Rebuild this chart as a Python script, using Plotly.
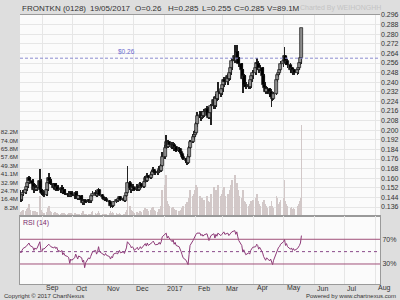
import plotly.graph_objects as go
import pandas as pd

# ---------------- data ----------------
dates = pd.bdate_range("2016-08-09", "2017-05-19")

open_px = [
 0.148,0.145,0.142,0.146,0.148,0.150,0.153,0.156,0.160,0.158,0.155,0.150,0.153,0.150,0.152,0.158,0.150,
 0.148,0.147,0.146,0.150,0.156,0.160,0.158,0.155,0.152,0.155,0.150,0.153,0.150,0.150,0.152,0.148,0.150,0.147,0.146,0.147,0.145,0.148,
 0.146,0.145,0.148,0.145,0.143,0.145,0.142,0.139,0.141,0.141,0.140,0.142,0.140,0.141,0.145,0.147,0.148,0.145,0.147,0.150,0.146,
 0.144,0.143,0.142,0.143,0.141,0.140,0.137,0.138,0.137,0.140,0.142,0.141,0.143,0.144,0.142,0.143,0.141,0.145,0.148,0.156,0.152,0.150,
 0.153,0.152,0.150,0.153,0.150,0.152,0.155,0.153,0.157,0.160,0.158,0.162,0.160,0.163,0.165,0.167,0.165,0.164,0.165,0.168,0.166,0.170,
 0.178,0.185,0.190,0.186,0.190,0.188,0.185,0.188,0.184,0.186,0.183,0.184,0.182,0.180,0.178,0.176,0.174,0.173,0.178,0.185,0.190,0.194,
 0.196,0.198,0.205,0.212,0.213,0.210,0.214,0.212,0.215,0.218,0.212,0.210,0.214,0.220,0.225,0.220,0.228,0.226,0.232,0.230,
 0.234,0.238,0.242,0.240,0.245,0.243,0.248,0.252,0.258,0.262,0.258,0.265,0.260,0.255,0.250,0.243,0.245,0.238,0.236,0.238,0.236,0.242,0.245,
 0.248,0.252,0.256,0.255,0.250,0.252,0.245,0.238,0.235,0.232,0.234,0.230,0.232,0.228,0.226,0.230,0.242,0.246,0.248,0.250,
 0.255,0.258,0.262,0.256,0.258,0.254,0.250,0.252,0.248,0.250,0.248,0.250,0.252,0.256,0.260,
]
high_px = [
 0.150,0.147,0.147,0.150,0.152,0.155,0.158,0.162,0.161,0.159,0.156,0.155,0.154,0.153,0.168,0.159,0.151,
 0.150,0.149,0.151,0.158,0.164,0.161,0.159,0.156,0.156,0.156,0.154,0.154,0.152,0.154,0.153,0.151,0.151,0.148,0.149,0.148,0.149,0.149,
 0.147,0.149,0.149,0.146,0.146,0.146,0.143,0.142,0.143,0.142,0.143,0.143,0.142,0.146,0.149,0.150,0.149,0.148,0.152,0.151,0.147,
 0.145,0.144,0.144,0.144,0.142,0.141,0.139,0.139,0.141,0.143,0.143,0.144,0.145,0.145,0.144,0.144,0.146,0.150,0.170,0.158,0.154,0.155,
 0.155,0.153,0.155,0.154,0.153,0.157,0.156,0.158,0.162,0.161,0.164,0.163,0.165,0.167,0.169,0.168,0.166,0.167,0.170,0.169,0.172,0.182,
 0.188,0.196,0.192,0.192,0.191,0.190,0.190,0.189,0.188,0.187,0.186,0.185,0.183,0.181,0.179,0.177,0.176,0.180,0.187,0.192,0.197,0.199,
 0.200,0.207,0.215,0.216,0.214,0.216,0.215,0.218,0.220,0.219,0.214,0.216,0.222,0.228,0.226,0.230,0.229,0.240,0.234,0.236,
 0.240,0.244,0.244,0.247,0.246,0.250,0.254,0.260,0.271,0.264,0.271,0.266,0.261,0.256,0.251,0.247,0.246,0.240,0.240,0.240,0.244,0.247,0.250,
 0.254,0.260,0.258,0.256,0.254,0.253,0.247,0.240,0.237,0.236,0.235,0.234,0.233,0.230,0.232,0.244,0.248,0.250,0.252,0.258,
 0.260,0.269,0.263,0.262,0.259,0.256,0.254,0.253,0.252,0.251,0.252,0.254,0.258,0.262,0.285,
]
low_px = [
 0.140,0.140,0.141,0.145,0.147,0.149,0.152,0.155,0.156,0.154,0.148,0.149,0.149,0.149,0.150,0.148,0.146,
 0.145,0.144,0.145,0.149,0.155,0.157,0.154,0.151,0.151,0.149,0.149,0.149,0.148,0.149,0.147,0.147,0.146,0.144,0.145,0.144,0.144,0.145,
 0.143,0.144,0.144,0.142,0.142,0.141,0.138,0.138,0.140,0.139,0.139,0.139,0.139,0.140,0.144,0.146,0.144,0.144,0.146,0.145,0.143,
 0.142,0.141,0.141,0.140,0.139,0.135,0.136,0.135,0.136,0.139,0.140,0.140,0.142,0.141,0.141,0.140,0.140,0.144,0.147,0.150,0.148,0.149,
 0.150,0.149,0.149,0.149,0.149,0.151,0.152,0.152,0.156,0.157,0.157,0.159,0.159,0.162,0.164,0.164,0.163,0.163,0.164,0.165,0.165,0.169,
 0.176,0.184,0.185,0.185,0.186,0.184,0.184,0.183,0.183,0.182,0.182,0.181,0.179,0.177,0.175,0.173,0.171,0.172,0.177,0.184,0.189,0.192,
 0.194,0.197,0.203,0.210,0.208,0.209,0.210,0.211,0.214,0.211,0.209,0.209,0.204,0.218,0.218,0.219,0.224,0.225,0.228,0.229,
 0.232,0.236,0.238,0.238,0.241,0.242,0.246,0.250,0.256,0.256,0.256,0.258,0.253,0.248,0.231,0.241,0.236,0.234,0.234,0.234,0.235,0.240,0.243,
 0.246,0.250,0.253,0.248,0.249,0.243,0.236,0.233,0.230,0.230,0.228,0.229,0.219,0.224,0.225,0.229,0.240,0.244,0.246,0.249,
 0.253,0.256,0.254,0.254,0.252,0.248,0.248,0.246,0.246,0.246,0.246,0.247,0.250,0.254,0.255,
]
close_px = [
 0.145,0.142,0.146,0.148,0.150,0.153,0.156,0.160,0.158,0.155,0.150,0.153,0.150,0.152,0.158,0.150,0.148,
 0.147,0.146,0.150,0.156,0.160,0.158,0.155,0.152,0.155,0.150,0.153,0.150,0.150,0.152,0.148,0.150,0.147,0.146,0.147,0.145,0.148,0.146,
 0.145,0.148,0.145,0.143,0.145,0.142,0.139,0.141,0.141,0.140,0.142,0.140,0.141,0.145,0.147,0.148,0.145,0.147,0.150,0.146,0.144,
 0.143,0.142,0.143,0.141,0.140,0.137,0.138,0.137,0.140,0.142,0.141,0.143,0.144,0.142,0.143,0.141,0.145,0.148,0.156,0.152,0.150,0.153,
 0.152,0.150,0.153,0.150,0.152,0.155,0.153,0.157,0.160,0.158,0.162,0.160,0.163,0.165,0.167,0.165,0.164,0.165,0.168,0.166,0.170,0.178,
 0.185,0.190,0.186,0.190,0.188,0.185,0.188,0.184,0.186,0.183,0.184,0.182,0.180,0.178,0.176,0.174,0.173,0.178,0.185,0.190,0.194,0.196,
 0.198,0.205,0.212,0.213,0.210,0.214,0.212,0.215,0.218,0.212,0.210,0.214,0.220,0.225,0.220,0.228,0.226,0.232,0.230,0.234,
 0.238,0.242,0.240,0.245,0.243,0.248,0.252,0.258,0.262,0.258,0.265,0.260,0.255,0.250,0.243,0.245,0.238,0.236,0.238,0.236,0.242,0.245,0.248,
 0.252,0.256,0.255,0.250,0.252,0.245,0.238,0.235,0.232,0.234,0.230,0.232,0.228,0.226,0.230,0.242,0.246,0.248,0.250,0.255,
 0.258,0.262,0.256,0.258,0.254,0.250,0.252,0.248,0.250,0.248,0.250,0.252,0.256,0.260,0.285,
]
volume_m = [
 4,3,5,6,5,7,8,12,6,5,4,5,3,4,20,6,4,
 3,3,4,8,10,5,4,3,4,3,3,2,2,3,2,3,2,2,3,2,3,2,
 3,2,2,2,2,3,5,2,2,2,2,2,2,4,5,3,2,3,5,3,2,
 2,2,2,2,3,5,3,4,3,3,2,2,3,2,2,2,4,6,35,10,6,5,
 4,3,4,3,3,5,4,6,8,5,7,5,6,8,9,6,5,4,7,6,10,25,
 30,40,15,12,10,8,9,7,6,6,5,5,6,8,10,12,14,10,18,25,20,22,
 25,30,28,20,15,18,14,16,20,15,12,14,22,28,20,25,18,30,20,22,
 25,28,20,22,18,25,30,35,40,28,32,25,20,18,25,15,14,12,10,12,15,14,16,
 18,22,15,12,10,14,16,12,10,8,10,9,15,10,8,20,18,12,14,16,
 18,35,15,12,10,8,9,7,8,7,10,12,15,18,89.1,
]
rsi14 = [
 50,48,52,55,58,60,62,64,60,57,52,56,54,55,66,52,50,
 55,54,58,60,62,60,58,56,58,55,57,52,50,52,45,48,44,42,40,31,38,36,
 40,46,42,38,43,40,33,36,24,32,40,38,42,48,50,52,46,50,58,50,46,
 46,44,47,44,42,38,42,40,46,48,46,50,52,48,50,47,52,56,66,60,56,58,
 56,52,57,53,55,58,55,60,63,59,64,60,63,65,67,63,61,62,65,62,66,74,
 78,80,72,75,72,66,69,62,65,60,58,55,50,45,40,36,32,29,45,60,68,72,
 74,78,80,80,76,78,75,77,79,72,68,72,76,79,72,78,75,80,76,78,
 80,82,78,80,76,79,80,82,84,78,82,74,68,60,50,53,47,45,48,46,52,55,57,
 58,62,60,54,57,48,42,38,36,40,35,38,32,29,36,50,55,57,58,62,
 66,70,60,63,58,54,56,52,55,52,55,57,60,64,76,
]

vol_tick_m = [8.2, 16.4, 24.7, 32.9, 41.1, 49.3, 57.6, 65.8, 74.0, 82.2]
price_ticks = [0.136, 0.144, 0.152, 0.160, 0.168, 0.176, 0.184, 0.192, 0.200, 0.208,
               0.216, 0.224, 0.232, 0.240, 0.248, 0.256, 0.264, 0.272, 0.280, 0.288, 0.296]
month_starts = ["2016-09-01", "2016-10-01", "2016-11-01", "2016-12-01", "2017-01-01", "2017-02-01",
                "2017-03-01", "2017-04-01", "2017-05-01", "2017-06-01", "2017-07-01", "2017-08-01"]
month_labels = ["Sep", "Oct", "Nov", "Dec", "2017", "Feb", "Mar", "Apr", "May", "Jun", "Jul", "Aug"]
rsi_levels = [70, 30]
rsi_mid = 50
ref_price = 0.26
header = ["FRONTKN (0128)", "19/05/2017", "O=0.26", "H=0.285", "L=0.255", "C=0.285", "V=89.1M"]

# ---------------- layout geometry ----------------
W, H = 400, 300
ML, MR, MT, MB = 20, 20, 15, 16
PH = H - MT - MB
split = (H - MB - 216) / PH   # paper y of panel separator


def px_x(px):
    return (px - ML) / (W - ML - MR)


def px_y(py):
    return (H - MB - py) / PH


FONT = "Liberation Sans, Arial, sans-serif"
DAY = 86400000

up = [c >= o for o, c in zip(open_px, close_px)]
body_base = [min(o, c) for o, c in zip(open_px, close_px)]
body_h = [max(abs(c - o), 0.0007) for o, c in zip(open_px, close_px)]
wick_h = [h - l for h, l in zip(high_px, low_px)]

fig = go.Figure()

# volume (base axis y, left)
fig.add_trace(go.Bar(x=dates, y=[v * 1e6 for v in volume_m], width=0.8 * DAY,
                     marker=dict(color="#d2c8c8", line=dict(width=0)),
                     xaxis="x", yaxis="y", hoverinfo="skip"))
# wicks
fig.add_trace(go.Bar(x=dates, y=wick_h, base=low_px, width=0.8 * DAY,
                     marker=dict(color="#222222", line=dict(width=0)),
                     xaxis="x", yaxis="y2", hoverinfo="skip"))
# bodies
fig.add_trace(go.Bar(x=dates, y=body_h, base=body_base, width=3.0 * DAY,
                     marker=dict(color=["#8c8c8c" if u else "#000000" for u in up],
                                 line=dict(color="#111111", width=0.7)),
                     xaxis="x", yaxis="y2", hoverinfo="skip"))
# RSI
fig.add_trace(go.Scatter(x=dates, y=rsi14, mode="lines",
                         line=dict(color="#8e3a78", width=1),
                         xaxis="x2", yaxis="y3", hoverinfo="skip"))

shapes = [
    dict(type="line", xref="paper", x0=0, x1=1, yref="y2", y0=ref_price, y1=ref_price,
         line=dict(color="#8c8cd0", width=1, dash="3px,2px")),
    dict(type="line", xref="paper", x0=0, x1=1, yref="y3", y0=rsi_mid, y1=rsi_mid,
         line=dict(color="#8a4a8a", width=1, dash="3px,3px")),
]
for lv in rsi_levels:
    shapes.append(dict(type="line", xref="paper", x0=0, x1=1, yref="y3", y0=lv, y1=lv,
                       line=dict(color="#a0507a", width=1)))

annotations = []
hdr_px = [20, 88, 133, 166, 200, 232, 265]
for txt, xp in zip(header, hdr_px):
    annotations.append(dict(text=txt, x=px_x(xp), y=px_y(8), xref="paper", yref="paper",
                            xanchor="left", yanchor="middle", showarrow=False,
                            font=dict(size=8, color="#333333", family=FONT)))
annotations.append(dict(text="Charted By WEIHONGHH", x=px_x(298), y=px_y(8), xref="paper", yref="paper",
                        xanchor="left", yanchor="middle", showarrow=False,
                        font=dict(size=7, color="#c4c4c4", family=FONT)))
annotations.append(dict(text="$0.26", x="2016-11-14", y=ref_price, xref="x", yref="y2",
                        xanchor="left", yanchor="bottom", yshift=1, showarrow=False,
                        font=dict(size=6.5, color="#6a6ad0", family=FONT)))
annotations.append(dict(text="RSI (14)", x=px_x(21), y=px_y(223), xref="paper", yref="paper",
                        xanchor="left", yanchor="middle", showarrow=False,
                        font=dict(size=7, color="#7a2a6a", family=FONT)))
for d, lab in zip(month_starts, month_labels):
    annotations.append(dict(text=lab, x=d, y=px_y(288), xref="x2", yref="paper",
                            xanchor="left", yanchor="middle", xshift=1, showarrow=False,
                            font=dict(size=7, color="#333333", family=FONT)))
annotations.append(dict(text="Copyright © 2017 ChartNexus", x=px_x(2), y=px_y(296), xref="paper", yref="paper",
                        xanchor="left", yanchor="middle", showarrow=False,
                        font=dict(size=6, color="#333333", family=FONT)))
annotations.append(dict(text="Powered by www.chartnexus.com", x=px_x(398), y=px_y(296), xref="paper", yref="paper",
                        xanchor="right", yanchor="middle", showarrow=False,
                        font=dict(size=6, color="#333333", family=FONT)))

xrange = ["2016-08-09", "2017-08-06"]
grid = "#e6e6e6"
axis_line = "#9a9a9a"

fig.update_layout(
    width=W, height=H,
    margin=dict(l=ML, r=MR, t=MT, b=MB, pad=0, autoexpand=False),
    paper_bgcolor="#dedede", plot_bgcolor="#fbfbfb",
    barmode="overlay", bargap=0, showlegend=False, hovermode=False,
    font=dict(family=FONT, size=7, color="#333333"),
    xaxis=dict(domain=[0, 1], anchor="y", type="date", range=xrange, automargin=False,
               tickvals=month_starts, showticklabels=False, ticks="",
               showgrid=True, gridcolor=grid, gridwidth=1, zeroline=False,
               showline=True, mirror=True, linecolor=axis_line, linewidth=1),
    xaxis2=dict(domain=[0, 1], anchor="y3", type="date", range=xrange, matches="x", automargin=False,
                tickvals=month_starts, showticklabels=False, ticks="",
                showgrid=True, gridcolor=grid, gridwidth=1, zeroline=False,
                showline=True, mirror=True, linecolor=axis_line, linewidth=1),
    yaxis=dict(domain=[split, 1], anchor="x", side="left", range=[0, 196.8e6], automargin=False,
               tickvals=[v * 1e6 for v in vol_tick_m], ticktext=[f"{v:.1f}M" for v in vol_tick_m],
               showgrid=False, zeroline=False, ticks="", ticklen=0, ticklabelstandoff=1,
               tickfont=dict(size=6.2, color="#333333"), showline=False),
    yaxis2=dict(overlaying="y", anchor="x", side="right", range=[0.1285, 0.296], automargin=False,
                tickvals=price_ticks, ticktext=[f"{p:.3f}" for p in price_ticks],
                showgrid=True, gridcolor=grid, gridwidth=1, zeroline=False, ticks="",
                tickfont=dict(size=7, color="#333333"), showline=False),
    yaxis3=dict(domain=[0, split], anchor="x2", side="right", range=[-2.4, 107.7], automargin=False,
                tickvals=rsi_levels, ticktext=[f"{v}%" for v in rsi_levels],
                showgrid=False, zeroline=False, ticks="",
                tickfont=dict(size=7, color="#333333"),
                showline=True, mirror=True, linecolor=axis_line, linewidth=1),
    shapes=shapes, annotations=annotations,
)

fig.write_html("out.html")
